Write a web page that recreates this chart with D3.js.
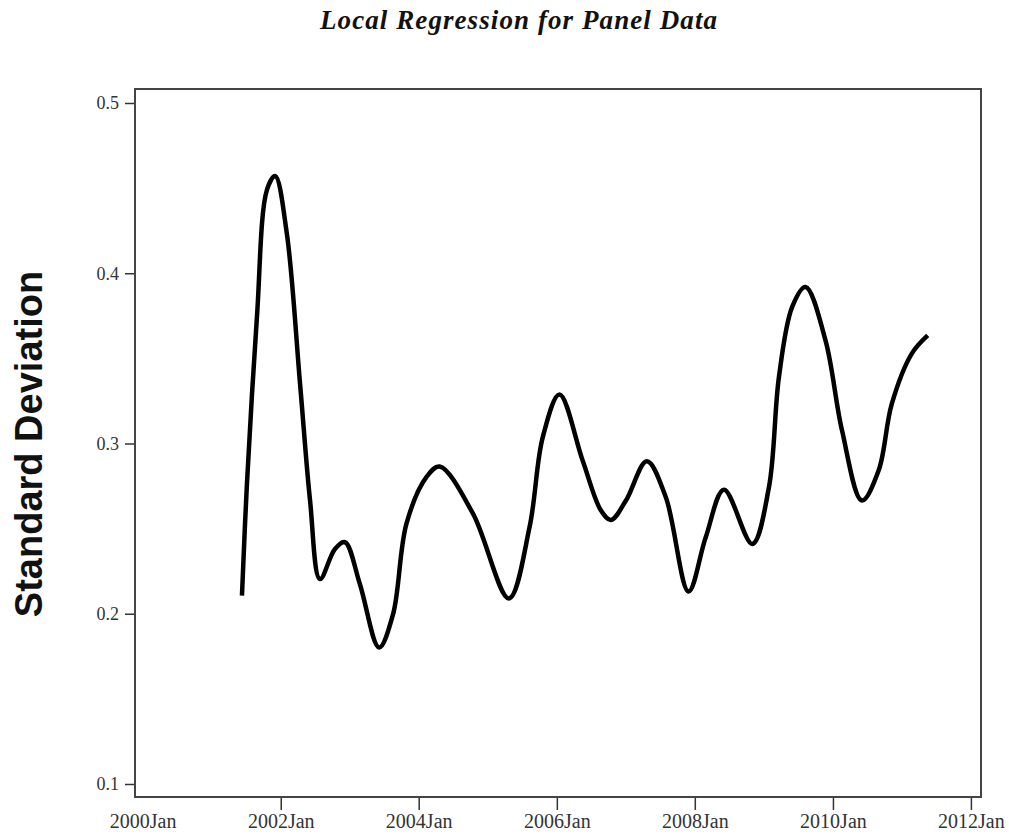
<!DOCTYPE html>
<html>
<head>
<meta charset="utf-8">
<script src="https://cdn.jsdelivr.net/npm/d3@7"></script>
<style>
  body { margin: 0; background: #fff; }
</style>
</head>
<body>
<svg width="1009" height="839"></svg>
<script>
// Data (decimal year, standard deviation)
var years = [2001.438, 2001.510, 2001.655, 2001.799, 2001.919, 2002.088, 2002.280, 2002.425,
  2002.569, 2002.786, 2002.931, 2003.147, 2003.426, 2003.629, 2003.822, 2004.111,
  2004.303, 2004.785, 2005.305, 2005.604, 2005.796, 2006.038, 2006.374, 2006.640,
  2006.785, 2007.002, 2007.305, 2007.580, 2007.909, 2008.158, 2008.422, 2008.831,
  2009.072, 2009.217, 2009.409, 2009.603, 2009.892, 2010.132, 2010.420, 2010.662,
  2010.854, 2011.143, 2011.374];
var sd = [0.2106, 0.2763, 0.3743, 0.4488, 0.4571, 0.4234, 0.3351, 0.2665,
  0.2204, 0.2380, 0.2420, 0.2175, 0.1802, 0.1998, 0.2528, 0.2802,
  0.2865, 0.2588, 0.2090, 0.2508, 0.3037, 0.3288, 0.2900, 0.2606,
  0.2551, 0.2665, 0.2896, 0.2684, 0.2131, 0.2449, 0.2729, 0.2410,
  0.2743, 0.3390, 0.3802, 0.3919, 0.3606, 0.3076, 0.2665, 0.2841,
  0.3234, 0.3528, 0.3635];
var x_ticks = [2000, 2002, 2004, 2006, 2008, 2010, 2012];
var y_ticks = [0.1, 0.2, 0.3, 0.4, 0.5];
var title = "Local Regression for Panel Data";
var y_title = "Standard Deviation";

// decimal year -> Date
to_date = function(y) {
  var yr = Math.floor(y);
  var a = new Date(yr, 0, 1), b = new Date(yr + 1, 0, 1);
  return new Date(+a + (y - yr) * (b - a));
};

var data0 = years.map((y, i) => ({date: to_date(y), v: sd[i]}));

var left = 135, right = 981, top_ = 89, bottom = 797;

var x = d3.scaleTime()
  .domain([to_date(1999.890), to_date(2012.146)])
  .range([left, right]);
var y = d3.scaleLinear()
  .domain([0.09236, 0.50822])
  .range([bottom, top_]);

var svg = d3.select('svg');

svg.append("text")
   .attr("x", 518.5)
   .attr("y", 29)
   .attr("text-anchor", "middle")
   .attr("font-family", "'Liberation Serif', 'Times New Roman', serif")
   .attr("font-style", "italic")
   .attr("font-weight", "bold")
   .attr("font-size", "27px")
   .attr("textLength", 397)
   .attr("lengthAdjust", "spacing")
   .attr("fill", "#111")
   .text(title);

svg.append("text")
   .attr("transform", "translate(42,444) rotate(-90)")
   .attr("text-anchor", "middle")
   .attr("font-family", "'Liberation Sans', Arial, sans-serif")
   .attr("font-weight", "bold")
   .attr("font-size", "38px")
   .attr("fill", "#111")
   .text(y_title);

// x axis
var gx = svg.append("g")
   .attr("transform", "translate(0," + bottom + ")")
   .call(d3.axisBottom(x)
     .tickValues(x_ticks.map(to_date))
     .tickSize(13)
     .tickPadding(4)
     .tickFormat(d3.timeFormat("%YJan")));
gx.select(".domain").remove();
gx.selectAll(".tick line").attr("stroke", "#333").attr("stroke-width", 1.5)
  .filter((d, i) => i === 0).remove();
gx.selectAll(".tick text")
  .attr("font-family", "'Liberation Serif', 'Times New Roman', serif")
  .attr("font-size", "20px")
  .attr("fill", "#333");

// y axis
var gy = svg.append("g")
   .attr("transform", "translate(" + left + ",0)")
   .call(d3.axisLeft(y)
     .tickValues(y_ticks)
     .tickSize(10)
     .tickPadding(6)
     .tickFormat(d3.format(".1f")));
gy.select(".domain").remove();
gy.selectAll(".tick line").attr("stroke", "#333").attr("stroke-width", 1.5);
gy.selectAll(".tick text")
  .attr("font-family", "'Liberation Serif', 'Times New Roman', serif")
  .attr("font-size", "18px")
  .attr("fill", "#333");

// frame
svg.append("rect")
   .attr("x", left)
   .attr("y", top_)
   .attr("width", right - left)
   .attr("height", bottom - top_)
   .attr("fill", "none")
   .attr("stroke", "#444")
   .attr("stroke-width", 2);

// curve
var line = d3.line()
  .x(d => x(d.date))
  .y(d => y(d.v))
  .curve(d3.curveCatmullRom.alpha(0.5));

svg.append("path")
   .datum(data0)
   .attr("d", line)
   .attr("fill", "none")
   .attr("stroke", "#000")
   .attr("stroke-width", 4.5)
   .attr("stroke-linejoin", "round");
</script>
</body>
</html>
